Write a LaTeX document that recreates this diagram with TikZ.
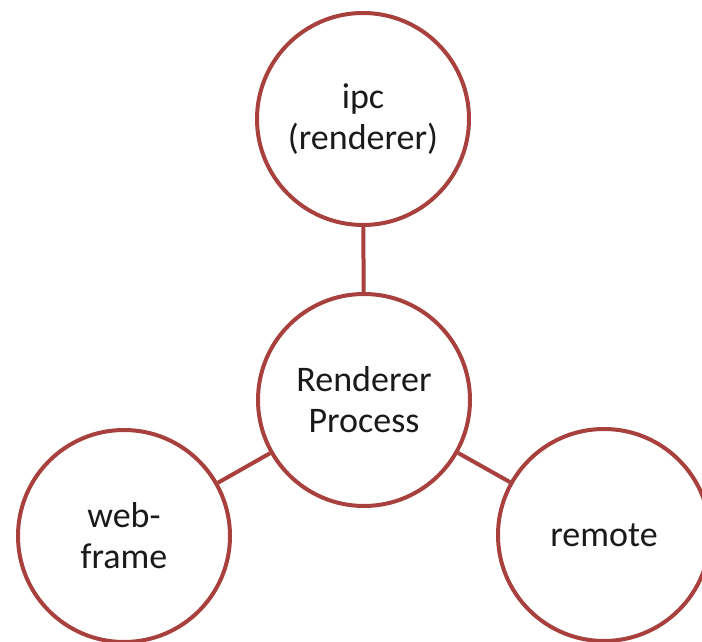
\documentclass[tikz,border=0pt]{standalone}
\usepackage{fontspec}
\setmainfont{Carlito}
\definecolor{ringred}{HTML}{A8403E}
\definecolor{ink}{HTML}{1A1A1A}
\begin{document}
\begin{tikzpicture}[x=1pt,y=1pt,
  bubble/.style={circle, draw=ringred, line width=4pt, fill=white,
    minimum size=212pt, inner sep=0pt, align=center,
    font=\fontsize{36}{41}\selectfont, text=ink},
  link/.style={draw=ringred, line width=4pt}]
\useasboundingbox (0,0) rectangle (702,642);
% module bubbles around the renderer process
\node[bubble] (ipc)    at (363,523) {ipc\\(renderer)};
\node[bubble] (proc)   at (364,242) {Renderer\\Process};
\node[bubble] (web)    at (124,106) {web-\\frame};
\node[bubble] (remote) at (604,107) {remote};
% spokes
\draw[link] (proc) -- (ipc);
\draw[link] (proc) -- (web);
\draw[link] (proc) -- (remote);
\end{tikzpicture}
\end{document}
